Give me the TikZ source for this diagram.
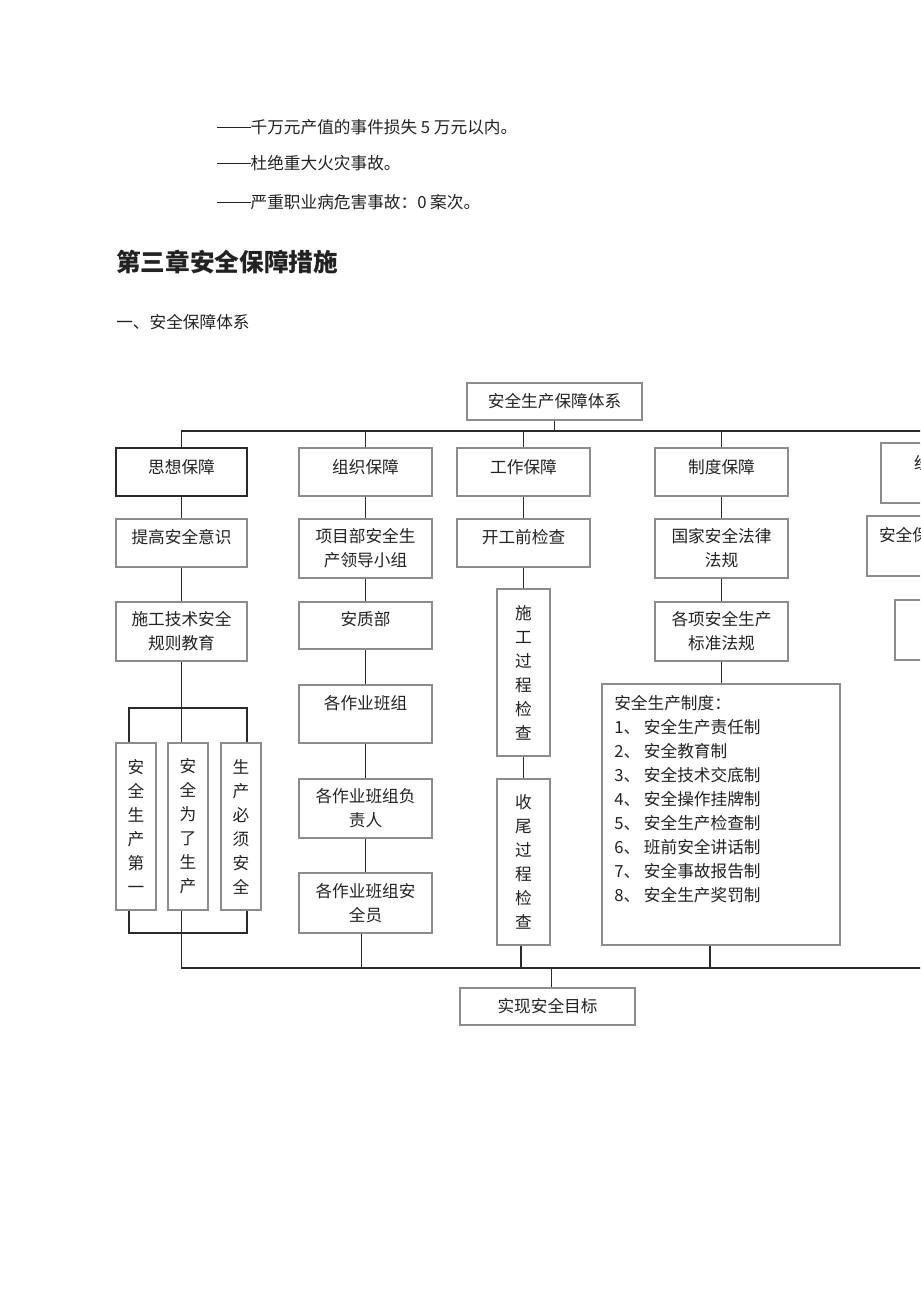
\documentclass[tikz,border=0pt]{standalone}
\usepackage{fontspec}
\setmainfont{Noto Sans CJK SC}
\usepackage{tikz}
\usetikzlibrary{positioning}

\newcommand{\pxu}{0.75pt}
\newcommand{\dashes}{\rule[0.33em]{2em}{0.6pt}}
\definecolor{boxgray}{HTML}{8C8C8C}
\definecolor{linegray}{HTML}{2A2A2A}
\definecolor{inkgray}{HTML}{222222}
\tikzset{
  box/.style={draw=boxgray, line width=0.8pt, inner sep=0pt, align=center,
              minimum width=133*\pxu, minimum height=48*\pxu},
  vbox/.style={box, minimum width=40*\pxu, minimum height=167*\pxu},
  txt/.style={inner sep=0pt, align=center},
  link/.style={draw=linegray, line width=1.4pt},
}

\begin{document}
\begin{tikzpicture}[x=0.75pt, y=-0.75pt, font=\fontsize{12.5}{18}\selectfont, text=inkgray]
\useasboundingbox (0,0) rectangle (920,1301);
\clip (0,0) rectangle (920,1301);

% text above the chart
\node[txt, anchor=west] (l1) at (217,127) {\dashes 千万元产值的事件损失 5 万元以内。};
\node[txt, anchor=west] (l2) at (217,163) {\dashes 杜绝重大火灾事故。};
\node[txt, anchor=west] (l3) at (217,202) {\dashes 严重职业病危害事故：0 案次。};
\node[txt, anchor=west, font=\fontsize{18.5}{22}\selectfont\bfseries] (h1) at (116,262) {第三章安全保障措施};
\node[txt, anchor=west] (h2) at (116,322) {一、安全保障体系};

% top
\node[box, minimum width=175*\pxu, minimum height=37*\pxu] (sys) at (554.5,401.5) {安全生产保障体系};
\coordinate (busT) at (935,431);
\coordinate (busB) at (935,968);

% five guarantees
\node[box, draw=linegray, line width=1pt, minimum width=131*\pxu] (sx) at (181.5,472) {};
\node[txt] (sxt) at (181.5,467) {思想保障};
\node[box] (zz) at (365.5,472) {};
\node[txt] (zzt) at (365.5,467) {组织保障};
\node[box] (gz) at (523.5,472) {};
\node[txt] (gzt) at (523.5,467) {工作保障};
\node[box] (zd) at (721.5,472) {};
\node[txt] (zdt) at (721.5,467) {制度保障};
\node[box, minimum height=60*\pxu] (jj) at (947.5,473) {};
\node[txt] (jjt) at (947.5,463) {经济保障};

% thought
\node[box, minimum width=131*\pxu] (sx1) at (181.5,543) {};
\node[txt] (sx1t) at (181.5,537) {提高安全意识};
\node[box, minimum width=131*\pxu, minimum height=59*\pxu] (sx2) at (181.5,631.5) {施工技术安全\\规则教育};
\node[vbox] (sxa) at (136,826.5) {安\\全\\生\\产\\第\\一};
\node[vbox] (sxb) at (188,826.5) {安\\全\\为\\了\\生\\产};
\node[vbox] (sxc) at (241,826.5) {生\\产\\必\\须\\安\\全};
\coordinate (brTl) at (129,708);
\coordinate (brTr) at (247,708);
\coordinate (brBl) at (129,933);
\coordinate (brBr) at (247,933);

% organisation
\node[box, minimum height=59*\pxu] (zz1) at (365.5,548.5) {项目部安全生\\产领导小组};
\node[box, minimum height=47*\pxu] (zz2) at (365.5,625.5) {};
\node[txt] (zz2t) at (365.5,619) {安质部};
\node[box, minimum height=58*\pxu] (zz3) at (365.5,714) {};
\node[txt] (zz3t) at (365.5,703) {各作业班组};
\node[box, minimum height=59*\pxu] (zz4) at (365.5,808.5) {各作业班组负\\责人};
\node[box, minimum height=60*\pxu] (zz5) at (365.5,903) {各作业班组安\\全员};

% work
\node[box] (gz1) at (523.5,543) {};
\node[txt] (gz1t) at (523.5,537) {开工前检查};
\node[vbox, minimum width=53*\pxu] (gz2) at (523.5,672.5) {施\\工\\过\\程\\检\\查};
\node[vbox, minimum width=53*\pxu, minimum height=166*\pxu] (gz3) at (523.5,862) {收\\尾\\过\\程\\检\\查};

% rules
\node[box, minimum height=59*\pxu] (zd1) at (721.5,548.5) {国家安全法律\\法规};
\node[box, minimum height=59*\pxu] (zd2) at (721.5,631.5) {各项安全生产\\标准法规};
\node[box, minimum width=238*\pxu, minimum height=261*\pxu] (zd3) at (721,814.5) {};
\node[txt, anchor=north west, align=left] (zd3t) at (614,695) {安全生产制度：\\
  1、 安全生产责任制\\
  2、 安全教育制\\
  3、 安全技术交底制\\
  4、 安全操作挂牌制\\
  5、 安全生产检查制\\
  6、 班前安全讲话制\\
  7、 安全事故报告制\\
  8、 安全生产奖罚制};

% economy (cut off at the page edge)
\node[box, minimum width=124*\pxu, minimum height=60*\pxu] (jj1) at (929,546) {};
\node[txt] (jj1t) at (929,535) {安全保障资金};
\node[box, minimum width=134*\pxu, minimum height=60*\pxu] (jj2) at (962,630) {};

% goal
\node[box, minimum width=175*\pxu, minimum height=37*\pxu] (goal) at (547.5,1006.5) {实现安全目标};

% connectors
\draw[link] (sys) -- (sys |- busT);
\draw[link] (sx.north) -- (sx.north |- busT) -- (busT);
\foreach \n in {zz,gz,zd,jj}
  \draw[link] (\n.north) -- (\n.north |- busT);

\draw[link] (sx) -- (sx1);
\draw[link] (sx1) -- (sx2);
\draw[link] (sx2) -- (sx2 |- sxb.north);
\draw[link] (brTl |- sxa.north) -- (brTl) -- (brTr) -- (brTr |- sxc.north);
\draw[link] (brBl |- sxa.south) -- (brBl) -- (brBr) -- (brBr |- sxc.south);
\draw[link] (sx2 |- sxb.south) -- (sx2 |- busB) -- (busB);

\draw[link] (zz) -- (zz1);
\draw[link] (zz1) -- (zz2);
\draw[link] (zz2) -- (zz3);
\draw[link] (zz3) -- (zz4);
\draw[link] (zz4) -- (zz5);
\draw[link] ([xshift=-3pt]zz5.south) -- ([xshift=-3pt]zz5.south |- busB);

\draw[link] (gz) -- (gz1);
\draw[link] (gz1) -- (gz2);
\draw[link] (gz2) -- (gz3);
\draw[link] ([xshift=-2pt]gz3.south) -- ([xshift=-2pt]gz3.south |- busB);

\draw[link] (zd) -- (zd1);
\draw[link] (zd1) -- (zd2);
\draw[link] (zd2.south) -- (zd2.south |- zd3.north);
\draw[link] ([xshift=-8pt]zd3.south) -- ([xshift=-8pt]zd3.south |- busB);

\draw[link] ([xshift=3pt]goal.north |- busB) -- ([xshift=3pt]goal.north);
\end{tikzpicture}
\end{document}
